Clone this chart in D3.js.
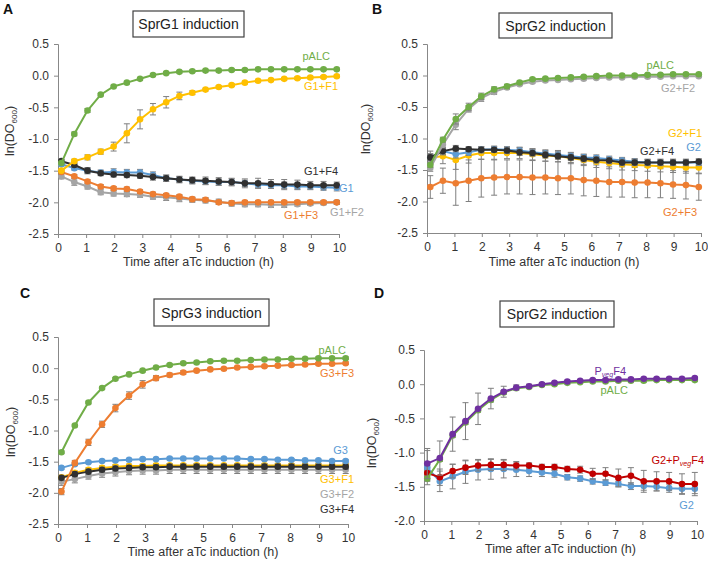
<!DOCTYPE html>
<html><head><meta charset="utf-8">
<script src="https://cdn.jsdelivr.net/npm/d3@7"></script>
<style>body{margin:0;background:#fff}svg{display:block;font-family:"Liberation Sans",Arial,sans-serif}</style>
</head><body>
<svg id="c" width="708" height="568"></svg>
<script>
// time points (h)
const times = [0.12,0.58,1.05,1.52,1.98,2.45,2.92,3.38,3.85,4.32,4.78,5.25,5.72,6.18,6.65,7.12,7.58,8.05,8.52,8.98,9.45,9.92];
const xTicks = [0,1,2,3,4,5,6,7,8,9,10];
const yTicksABC = [0.5,0.0,-0.5,-1.0,-1.5,-2.0,-2.5];
const yTicksD = [0.5,0.0,-0.5,-1.0,-1.5,-2.0];

// Panel A – SprG1 induction
const A_pALC = [-1.38,-0.92,-0.55,-0.30,-0.17,-0.11,-0.05,0.01,0.04,0.06,0.07,0.08,0.08,0.09,0.09,0.10,0.10,0.10,0.10,0.10,0.10,0.10];
const A_pALC_err = [0.02,0.03,0.03,0.02,0.02,0.02,0.02,0.02,0.02,0.02,0.02,0.02,0.02,0.02,0.02,0.02,0.02,0.02,0.02,0.02,0.02,0.02];
const A_G1F1 = [-1.50,-1.35,-1.29,-1.20,-1.12,-0.91,-0.69,-0.53,-0.42,-0.32,-0.27,-0.22,-0.18,-0.15,-0.11,-0.08,-0.07,-0.05,-0.04,-0.03,-0.02,-0.01];
const A_G1F1_err = [0.03,0.03,0.04,0.04,0.07,0.15,0.15,0.09,0.09,0.06,0.03,0.02,0.02,0.02,0.02,0.02,0.02,0.02,0.02,0.02,0.02,0.02];
const A_G1 = [-1.40,-1.46,-1.50,-1.53,-1.52,-1.53,-1.53,-1.57,-1.62,-1.64,-1.66,-1.67,-1.68,-1.68,-1.70,-1.72,-1.73,-1.73,-1.75,-1.75,-1.76,-1.77];
const A_G1_err = [0.03,0.03,0.04,0.04,0.05,0.05,0.05,0.05,0.05,0.05,0.05,0.05,0.05,0.05,0.05,0.05,0.05,0.05,0.05,0.05,0.05,0.05];
const A_G1F4 = [-1.35,-1.41,-1.50,-1.54,-1.56,-1.57,-1.58,-1.60,-1.62,-1.64,-1.65,-1.66,-1.67,-1.68,-1.70,-1.70,-1.71,-1.72,-1.72,-1.73,-1.73,-1.73];
const A_G1F4_err = [0.03,0.04,0.05,0.04,0.04,0.04,0.04,0.05,0.05,0.05,0.05,0.06,0.06,0.06,0.07,0.08,0.07,0.08,0.07,0.06,0.06,0.05];
const A_G1F2 = [-1.59,-1.68,-1.75,-1.84,-1.86,-1.87,-1.88,-1.91,-1.92,-1.94,-1.96,-1.97,-1.99,-2.02,-2.03,-2.03,-2.04,-2.04,-2.03,-2.02,-2.01,-2.00];
const A_G1F2_err = [0.04,0.05,0.04,0.04,0.04,0.04,0.04,0.04,0.05,0.05,0.04,0.04,0.04,0.04,0.04,0.04,0.04,0.04,0.03,0.03,0.03,0.03];
const A_G1F3 = [-1.52,-1.59,-1.67,-1.75,-1.78,-1.79,-1.83,-1.87,-1.89,-1.91,-1.95,-1.96,-2.00,-2.01,-2.00,-2.00,-2.00,-2.00,-2.00,-2.00,-2.00,-2.00];
const A_G1F3_err = [0.03,0.03,0.03,0.03,0.03,0.03,0.03,0.03,0.03,0.03,0.03,0.03,0.03,0.03,0.03,0.03,0.03,0.03,0.03,0.03,0.03,0.03];

// Panel B – SprG2 induction
const B_pALC = [-1.42,-1.02,-0.69,-0.50,-0.33,-0.22,-0.17,-0.11,-0.06,-0.05,-0.04,-0.03,-0.02,-0.01,0.00,0.00,0.00,0.01,0.01,0.02,0.02,0.02];
const B_pALC_err = [0.04,0.04,0.08,0.06,0.05,0.04,0.03,0.02,0.02,0.02,0.02,0.02,0.02,0.02,0.02,0.02,0.02,0.02,0.02,0.02,0.02,0.02];
const B_G2F2 = [-1.47,-1.10,-0.78,-0.53,-0.36,-0.26,-0.19,-0.14,-0.10,-0.08,-0.07,-0.06,-0.05,-0.04,-0.03,-0.03,-0.02,-0.02,-0.02,-0.01,-0.01,-0.01];
const B_G2F2_err = [0.05,0.05,0.08,0.05,0.05,0.04,0.03,0.02,0.02,0.02,0.02,0.02,0.02,0.02,0.02,0.02,0.02,0.02,0.02,0.02,0.02,0.02];
const B_G2F3 = [-1.77,-1.67,-1.71,-1.67,-1.63,-1.62,-1.61,-1.61,-1.62,-1.62,-1.63,-1.63,-1.66,-1.67,-1.69,-1.69,-1.70,-1.70,-1.71,-1.73,-1.74,-1.77];
const B_G2F3_err = [0.18,0.20,0.35,0.33,0.30,0.28,0.27,0.27,0.27,0.26,0.26,0.25,0.25,0.25,0.24,0.24,0.24,0.24,0.23,0.22,0.22,0.21];
const B_G2F1 = [-1.30,-1.28,-1.34,-1.27,-1.23,-1.23,-1.23,-1.23,-1.25,-1.27,-1.28,-1.31,-1.34,-1.37,-1.39,-1.41,-1.42,-1.43,-1.44,-1.45,-1.46,-1.46];
const B_G2F1_err = [0.10,0.12,0.15,0.12,0.10,0.10,0.09,0.09,0.09,0.09,0.09,0.09,0.09,0.09,0.09,0.09,0.09,0.09,0.09,0.09,0.09,0.09];
const B_G2 = [-1.30,-1.20,-1.25,-1.22,-1.18,-1.17,-1.18,-1.19,-1.22,-1.24,-1.26,-1.28,-1.30,-1.31,-1.33,-1.35,-1.37,-1.38,-1.38,-1.38,-1.38,-1.38];
const B_G2_err = [0.06,0.06,0.06,0.05,0.05,0.05,0.05,0.05,0.05,0.05,0.05,0.05,0.05,0.05,0.05,0.05,0.05,0.05,0.05,0.05,0.05,0.05];
const B_G2F4 = [-1.30,-1.20,-1.16,-1.17,-1.18,-1.18,-1.19,-1.22,-1.23,-1.26,-1.28,-1.30,-1.32,-1.34,-1.35,-1.38,-1.38,-1.38,-1.38,-1.38,-1.38,-1.37];
const B_G2F4_err = [0.05,0.05,0.05,0.04,0.04,0.04,0.05,0.05,0.05,0.05,0.05,0.05,0.05,0.05,0.05,0.05,0.05,0.05,0.05,0.05,0.05,0.05];

// Panel C – SprG3 induction
const C_pALC = [-1.35,-0.92,-0.55,-0.32,-0.17,-0.10,-0.04,0.01,0.05,0.08,0.09,0.11,0.12,0.12,0.13,0.14,0.14,0.15,0.15,0.16,0.16,0.16];
const C_pALC_err = [0.02,0.02,0.02,0.02,0.02,0.02,0.02,0.02,0.02,0.02,0.02,0.02,0.02,0.02,0.02,0.02,0.02,0.02,0.02,0.02,0.02,0.02];
const C_G3F3 = [-1.98,-1.52,-1.19,-0.90,-0.64,-0.44,-0.26,-0.16,-0.11,-0.07,-0.04,-0.02,-0.01,0.01,0.02,0.03,0.04,0.05,0.06,0.07,0.07,0.08];
const C_G3F3_err = [0.05,0.04,0.05,0.05,0.06,0.06,0.06,0.04,0.03,0.03,0.02,0.02,0.02,0.02,0.02,0.02,0.02,0.02,0.02,0.02,0.02,0.02];
const C_G3 = [-1.60,-1.54,-1.51,-1.49,-1.48,-1.47,-1.46,-1.46,-1.45,-1.45,-1.45,-1.45,-1.45,-1.45,-1.46,-1.46,-1.47,-1.47,-1.48,-1.48,-1.49,-1.49];
const C_G3_err = [0.02,0.02,0.02,0.02,0.02,0.02,0.02,0.02,0.02,0.02,0.02,0.02,0.02,0.02,0.02,0.02,0.02,0.02,0.02,0.02,0.02,0.02];
const C_G3F1 = [-1.75,-1.68,-1.63,-1.60,-1.58,-1.57,-1.57,-1.56,-1.56,-1.56,-1.56,-1.56,-1.56,-1.56,-1.56,-1.56,-1.56,-1.56,-1.56,-1.56,-1.56,-1.56];
const C_G3F1_err = [0.03,0.03,0.03,0.03,0.03,0.03,0.03,0.03,0.03,0.03,0.03,0.03,0.03,0.03,0.03,0.03,0.03,0.03,0.03,0.03,0.03,0.03];
const C_G3F2 = [-1.82,-1.78,-1.73,-1.69,-1.67,-1.65,-1.64,-1.64,-1.63,-1.63,-1.63,-1.63,-1.63,-1.63,-1.63,-1.63,-1.63,-1.63,-1.63,-1.63,-1.63,-1.63];
const C_G3F2_err = [0.06,0.06,0.05,0.06,0.06,0.06,0.06,0.06,0.06,0.06,0.06,0.06,0.06,0.06,0.06,0.06,0.06,0.06,0.06,0.06,0.06,0.06];
const C_G3F4 = [-1.76,-1.70,-1.66,-1.63,-1.61,-1.60,-1.59,-1.59,-1.58,-1.58,-1.58,-1.58,-1.58,-1.58,-1.58,-1.58,-1.58,-1.58,-1.58,-1.58,-1.58,-1.58];
const C_G3F4_err = [0.04,0.04,0.04,0.04,0.04,0.04,0.04,0.04,0.04,0.04,0.04,0.04,0.04,0.04,0.04,0.04,0.04,0.04,0.04,0.04,0.04,0.04];

// Panel D – SprG2 induction
const D_pALC = [-1.38,-1.10,-0.75,-0.56,-0.38,-0.23,-0.12,-0.06,-0.04,-0.01,0.00,0.02,0.03,0.04,0.04,0.05,0.05,0.05,0.06,0.06,0.06,0.06];
const D_pALC_err = [0.03,0.03,0.03,0.03,0.03,0.03,0.03,0.02,0.02,0.02,0.02,0.02,0.02,0.02,0.02,0.02,0.02,0.02,0.02,0.02,0.02,0.02];
const D_PvegF4 = [-1.16,-1.08,-0.73,-0.54,-0.36,-0.21,-0.11,-0.05,-0.03,0.00,0.02,0.04,0.05,0.06,0.06,0.07,0.07,0.08,0.08,0.08,0.08,0.09];
const D_PvegF4_err = [0.22,0.25,0.25,0.27,0.23,0.15,0.08,0.04,0.03,0.02,0.02,0.02,0.02,0.02,0.02,0.02,0.02,0.02,0.02,0.02,0.02,0.02];
const D_G2PvegF4 = [-1.30,-1.36,-1.27,-1.22,-1.19,-1.18,-1.18,-1.19,-1.19,-1.21,-1.21,-1.24,-1.25,-1.31,-1.31,-1.37,-1.34,-1.42,-1.42,-1.42,-1.46,-1.46];
const D_G2PvegF4_err = [0.12,0.12,0.10,0.10,0.08,0.08,0.08,0.06,0.04,0.04,0.04,0.04,0.05,0.08,0.09,0.13,0.12,0.16,0.14,0.13,0.15,0.17];
const D_G2 = [-1.22,-1.42,-1.35,-1.28,-1.25,-1.24,-1.24,-1.25,-1.27,-1.29,-1.31,-1.36,-1.38,-1.42,-1.44,-1.46,-1.49,-1.49,-1.50,-1.52,-1.53,-1.53];
const D_G2_err = [0.25,0.15,0.18,0.17,0.15,0.15,0.13,0.10,0.08,0.06,0.05,0.04,0.04,0.04,0.04,0.04,0.05,0.06,0.06,0.06,0.07,0.07];

const COL = {green:"#70AD47", yellow:"#FFC000", orange:"#ED7D31", grey:"#A5A5A5", blue:"#5B9BD5", black:"#303030", purple:"#7030A0", red:"#C00000"};

const panels = [
  {letter:"A", lx:3, ly:14, title:"SprG1 induction", box:[133,11,111,26],
   x0:58, x1:339, yTop:44, yBot:234, dom:[-2.5,0.5], yTicks:yTicksABC, yLabX:14, yLabY:131, xTitleY:266,
   series:[
     {v:A_G1F2,e:A_G1F2_err,c:COL.grey},
     {v:A_G1F3,e:A_G1F3_err,c:COL.orange},
     {v:A_G1,e:A_G1_err,c:COL.blue},
     {v:A_G1F4,e:A_G1F4_err,c:COL.black},
     {v:A_G1F1,e:A_G1F1_err,c:COL.yellow},
     {v:A_pALC,e:A_pALC_err,c:COL.green}],
   labels:[
     {t:"pALC",x:330,y:60,c:COL.green,a:"end"},
     {t:"G1+F1",x:338,y:90,c:COL.yellow,a:"end"},
     {t:"G1+F4",x:338,y:175,c:COL.black,a:"end"},
     {t:"G1",x:339,y:192,c:COL.blue,a:"start"},
     {t:"G1+F3",x:318,y:219,c:COL.orange,a:"end"},
     {t:"G1+F2",x:330,y:216,c:COL.grey,a:"start"}]},
  {letter:"B", lx:372, ly:14, title:"SprG2 induction", box:[499,13,113,25],
   x0:427, x1:701, yTop:44, yBot:233, dom:[-2.5,0.5], yTicks:yTicksABC, yLabX:370, yLabY:129, xTitleY:266,
   series:[
     {v:B_G2F3,e:B_G2F3_err,c:COL.orange},
     {v:B_G2F1,e:B_G2F1_err,c:COL.yellow},
     {v:B_G2,e:B_G2_err,c:COL.blue},
     {v:B_G2F4,e:B_G2F4_err,c:COL.black},
     {v:B_G2F2,e:B_G2F2_err,c:COL.grey},
     {v:B_pALC,e:B_pALC_err,c:COL.green}],
   labels:[
     {t:"pALC",x:674,y:69,c:COL.green,a:"end"},
     {t:"G2+F2",x:695,y:92,c:COL.grey,a:"end"},
     {t:"G2+F1",x:702,y:137,c:COL.yellow,a:"end"},
     {t:"G2",x:701,y:151,c:COL.blue,a:"end"},
     {t:"G2+F4",x:674,y:155,c:COL.black,a:"end"},
     {t:"G2+F3",x:697,y:216,c:COL.orange,a:"end"}]},
  {letter:"C", lx:20, ly:298, title:"SprG3 induction", box:[154,299,115,27],
   x0:58, x1:348, yTop:337, yBot:524, dom:[-2.5,0.5], yTicks:yTicksABC, yLabX:15, yLabY:432, xTitleY:556,
   series:[
     {v:C_G3F2,e:C_G3F2_err,c:COL.grey},
     {v:C_G3F1,e:C_G3F1_err,c:COL.yellow},
     {v:C_G3F4,e:C_G3F4_err,c:COL.black},
     {v:C_G3,e:C_G3_err,c:COL.blue},
     {v:C_G3F3,e:C_G3F3_err,c:COL.orange},
     {v:C_pALC,e:C_pALC_err,c:COL.green}],
   labels:[
     {t:"pALC",x:346,y:354,c:COL.green,a:"end"},
     {t:"G3+F3",x:354,y:377,c:COL.orange,a:"end"},
     {t:"G3",x:348,y:454,c:COL.blue,a:"end"},
     {t:"G3+F1",x:354,y:483,c:COL.yellow,a:"end"},
     {t:"G3+F2",x:354,y:498,c:COL.grey,a:"end"},
     {t:"G3+F4",x:354,y:513,c:COL.black,a:"end"}]},
  {letter:"D", lx:374, ly:298, title:"SprG2 induction", box:[500,301,114,26],
   x0:424, x1:697, yTop:350, yBot:521, dom:[-2.0,0.5], yTicks:yTicksD, yLabX:376, yLabY:443, xTitleY:553,
   series:[
     {v:D_G2,e:D_G2_err,c:COL.blue},
     {v:D_G2PvegF4,e:D_G2PvegF4_err,c:COL.red},
     {v:D_pALC,e:D_pALC_err,c:COL.green},
     {v:D_PvegF4,e:D_PvegF4_err,c:COL.purple}],
   labels:[
     {t:"P", sub:"veg", t2:"F4", x:626,y:375,c:COL.purple,a:"end"},
     {t:"pALC",x:628,y:394,c:COL.green,a:"end"},
     {t:"G2+P", sub:"veg", t2:"F4", x:704,y:464,c:COL.red,a:"end"},
     {t:"G2",x:694,y:509,c:COL.blue,a:"end"}]}
];

const svg = d3.select("#c");

panels.forEach(p => {
  const g = svg.append("g");
  const x = d3.scaleLinear().domain([0,10]).range([p.x0,p.x1]);
  const y = d3.scaleLinear().domain(p.dom).range([p.yBot,p.yTop]);

  g.append("text").attr("x",p.lx).attr("y",p.ly).attr("font-size",14).attr("font-weight","bold")
   .attr("fill","#111").text(p.letter);
  g.append("rect").attr("x",p.box[0]).attr("y",p.box[1]).attr("width",p.box[2]).attr("height",p.box[3])
   .attr("fill","#fff").attr("stroke","#404040").attr("stroke-width",1.2);
  g.append("text").attr("x",p.box[0]+p.box[2]/2).attr("y",p.box[1]+p.box[3]/2+5)
   .attr("text-anchor","middle").attr("font-size",14).attr("fill","#222").text(p.title);

  const xa = d3.axisBottom(x).tickValues(xTicks).tickSize(4).tickFormat(d3.format("d"));
  const gx = g.append("g").attr("transform",`translate(0,${p.yBot})`).call(xa);
  gx.select(".domain").attr("stroke","#888");
  gx.selectAll(".tick line").attr("stroke","#888");
  gx.selectAll(".tick text").attr("font-size",12).attr("fill","#333").attr("dy","0.9em");
  const ya = d3.axisLeft(y).tickValues(p.yTicks).tickSize(4).tickFormat(d3.format(".1f"));
  const gy = g.append("g").attr("transform",`translate(${p.x0},0)`).call(ya);
  gy.select(".domain").attr("stroke","#888");
  gy.selectAll(".tick line").attr("stroke","#888");
  gy.selectAll(".tick text").attr("font-size",12).attr("fill","#333").attr("x",-9)
    .text(d => d3.format(".1f")(d).replace("−","-"));

  g.append("text").attr("x",(p.x0+p.x1)/2).attr("y",p.xTitleY).attr("text-anchor","middle")
   .attr("font-size",12.5).attr("fill","#333").text("Time after aTc induction (h)");
  const yl = g.append("text").attr("transform",`translate(${p.yLabX},${p.yLabY}) rotate(-90)`)
   .attr("text-anchor","middle").attr("font-size",12.5).attr("fill","#333");
  yl.append("tspan").text("ln(DO");
  yl.append("tspan").attr("font-size",8).attr("dy",3).text("600");
  yl.append("tspan").attr("dy",-3).text(")");

  const line = d3.line().x((d,i)=>x(times[i])).y(d=>y(d));
  p.series.forEach(s => {
    const sg = g.append("g");
    s.v.forEach((v,i) => {
      const e = s.e[i], cx = x(times[i]);
      sg.append("line").attr("x1",cx).attr("x2",cx).attr("y1",y(v-e)).attr("y2",y(v+e))
        .attr("stroke","#7f7f7f").attr("stroke-width",1);
      [v-e, v+e].forEach(w => sg.append("line").attr("x1",cx-3).attr("x2",cx+3).attr("y1",y(w)).attr("y2",y(w))
        .attr("stroke","#7f7f7f").attr("stroke-width",1));
    });
    sg.append("path").datum(s.v).attr("d",line).attr("fill","none").attr("stroke",s.c).attr("stroke-width",2);
    sg.selectAll("circle").data(s.v).join("circle")
      .attr("cx",(d,i)=>x(times[i])).attr("cy",d=>y(d)).attr("r",3.3).attr("fill",s.c);
  });

  p.labels.forEach(l => {
    const t = g.append("text").attr("x",l.x).attr("y",l.y).attr("text-anchor",l.a)
      .attr("font-size",11).attr("fill",l.c);
    t.append("tspan").text(l.t);
    if (l.sub) {
      t.append("tspan").attr("font-size",7).attr("dy",2).attr("font-style","italic").text(l.sub);
      t.append("tspan").attr("dy",-2).text(l.t2);
    }
  });
});
</script>
</body></html>
